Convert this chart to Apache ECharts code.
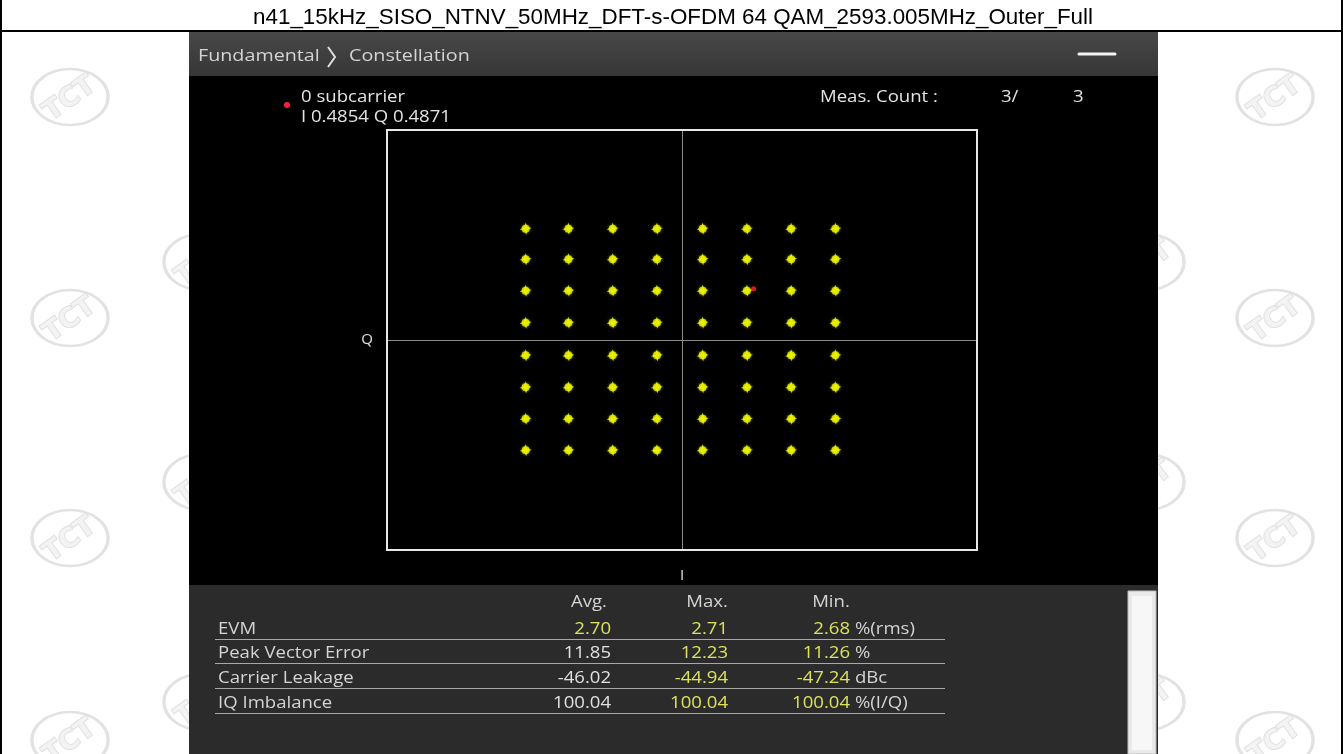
<!DOCTYPE html>
<html>
<head>
<meta charset="utf-8">
<script src="https://cdn.jsdelivr.net/npm/echarts@6/dist/echarts.min.js"></script>
<style>
html,body{margin:0;padding:0;background:#fff;}
#chart{width:1343px;height:754px;}
</style>
</head>
<body>
<div id="chart"></div>
<script>
// ---- data ----
const title = 'n41_15kHz_SISO_NTNV_50MHz_DFT-s-OFDM 64 QAM_2593.005MHz_Outer_Full';
const breadcrumb = ['Fundamental', 'Constellation'];
// 64-QAM cluster centres (I columns, Q rows)
const iLevels = [-1.06, -0.77, -0.47, -0.17, 0.14, 0.44, 0.74, 1.04];
const qLevels = [1.06, 0.77, 0.47, 0.165, -0.146, -0.45, -0.75, -1.05];
const markerPoint = [0.4854, 0.4871];
const markerLabel = ['0 subcarrier', 'I 0.4854 Q 0.4871'];
const measCount = ['Meas. Count :', '3/', '3'];
const axisNames = ['I', 'Q'];
const colHeaders = ['Avg.', 'Max.', 'Min.'];
const rowLabels = ['EVM', 'Peak Vector Error', 'Carrier Leakage', 'IQ Imbalance'];
const avgVals = ['2.70', '11.85', '-46.02', '100.04'];
const maxVals = ['2.71', '12.23', '-44.94', '100.04'];
const minVals = ['2.68', '11.26', '-47.24', '100.04'];
const units = ['%(rms)', '%', 'dBc', '%(I/Q)'];

// ---- build ----
const points = [];
qLevels.forEach(q => iLevels.forEach(i => points.push([i, q])));

const UI = '"Open Sans", "Noto Sans", sans-serif';
const txtCol = '#d4d4d4';
const yellow = '#dde25a';
const valWhite = '#e0e0e0';
const SX = 1.16; // the instrument screenshot is slightly stretched horizontally

const g = [];
function T(text, x, y, size, fill, align, extra) {
  return Object.assign({type: 'text', x: x, y: y, z: 30, scaleX: SX,
    style: {text: text, font: size + 'px ' + UI, fill: fill, textAlign: align || 'left', textVerticalAlign: 'middle'}}, extra || {});
}
// watermark logos
function logo(cx, cy) {
  return {
    type: 'group', x: cx, y: cy,
    children: [
      {type: 'circle', z: -20, shape: {cx: 0, cy: 0, r: 28}, scaleX: 1.36,
       style: {fill: 'none', stroke: '#e2e2e2', lineWidth: 2.5}},
      {type: 'text', z: -20, x: 0, y: 2, rotation: 0.62,
       style: {text: 'TCT', font: 'bold 27px "DejaVu Sans", sans-serif', fill: '#f3f3f3', stroke: '#dcdcdc', lineWidth: 1.6, textAlign: 'center', textVerticalAlign: 'middle'}}
    ]
  };
}
[97, 318, 538, 740].forEach(y => { g.push(logo(70, y)); g.push(logo(1275, y)); });
[262, 482, 702].forEach(y => { g.push(logo(202, y)); g.push(logo(1146, y)); });

// outer table frame
g.push({type: 'line', z: 50, shape: {x1: 0, y1: 31, x2: 1343, y2: 31}, style: {stroke: '#000', lineWidth: 2}});
g.push({type: 'line', z: 50, shape: {x1: 1, y1: 0, x2: 1, y2: 754}, style: {stroke: '#000', lineWidth: 2}});
g.push({type: 'line', z: 50, shape: {x1: 1342, y1: 0, x2: 1342, y2: 754}, style: {stroke: '#000', lineWidth: 2}});
g.push({type: 'text', x: 673, y: 18, z: 50,
  style: {text: title, font: '22.4px "Liberation Sans", Arial, sans-serif', fill: '#000', textAlign: 'center', textVerticalAlign: 'middle'}});

// instrument panel backgrounds
g.push({type: 'rect', z: -10, shape: {x: 189, y: 32, width: 969, height: 44},
  style: {fill: new echarts.graphic.LinearGradient(0, 0, 0, 1, [{offset: 0, color: '#484848'}, {offset: 1, color: '#363636'}])}});
g.push({type: 'rect', z: -10, shape: {x: 189, y: 76, width: 969, height: 509}, style: {fill: '#000'}});
g.push({type: 'rect', z: -10, shape: {x: 189, y: 585, width: 969, height: 169}, style: {fill: '#2b2b2b'}});
// scrollbar
g.push({type: 'rect', z: -5, shape: {x: 1128, y: 591, width: 28, height: 163}, style: {fill: '#e9e9e9', stroke: '#bdbdbd', lineWidth: 1}});
g.push({type: 'rect', z: -4, shape: {x: 1132, y: 596, width: 20, height: 154}, style: {fill: '#f7f7f7'}});

// header texts
g.push(T(breadcrumb[0], 198, 56, 17, txtCol));
g.push({type: 'polyline', z: 30, shape: {points: [[328, 47], [335, 57], [328, 67]]}, style: {stroke: '#e0e0e0', lineWidth: 2, fill: 'none'}});
g.push(T(breadcrumb[1], 349, 56, 17, txtCol));
g.push({type: 'line', z: 30, shape: {x1: 1079, y1: 54, x2: 1115, y2: 54}, style: {stroke: '#f4f4f4', lineWidth: 3, lineCap: 'round'}});

// marker info
g.push({type: 'circle', z: 30, shape: {cx: 287, cy: 105, r: 3}, style: {fill: '#ff1f3a'}});
g.push(T(markerLabel[0], 301, 97, 16, '#e4e4e4'));
g.push(T(markerLabel[1], 301, 117, 16, '#e4e4e4'));
g.push(T(measCount[0], 820, 97, 16, '#e4e4e4'));
g.push(T(measCount[1], 1001, 97, 16, '#e4e4e4'));
g.push(T(measCount[2], 1073, 97, 16, '#e4e4e4'));

// results table
const hdrX = [589, 707, 831];
colHeaders.forEach((h, k) => g.push(T(h, hdrX[k], 602, 16, txtCol, 'center')));
const rowY = [629, 653, 678, 703];
rowLabels.forEach((lab, r) => {
  const y = rowY[r];
  g.push(T(lab, 218, y, 16, txtCol));
  g.push(T(avgVals[r], 611, y, 16, r === 0 ? yellow : valWhite, 'right'));
  g.push(T(maxVals[r], 728, y, 16, yellow, 'right'));
  g.push(T(minVals[r], 850, y, 16, yellow, 'right'));
  g.push(T(units[r], 855, y, 16, txtCol));
  g.push({type: 'line', z: 30, shape: {x1: 215, y1: y + 10.5, x2: 945, y2: y + 10.5}, style: {stroke: '#a8a8a8', lineWidth: 1}});
});

const chart = echarts.init(document.getElementById('chart'), null, {renderer: 'canvas'});
chart.setOption({
  animation: false,
  backgroundColor: 'transparent',
  graphic: {elements: g},
  grid: {left: 387, top: 130, width: 590, height: 420, show: true, borderColor: '#e8e8e8', borderWidth: 2, backgroundColor: 'transparent', z: 3},
  xAxis: {
    type: 'value', min: -2, max: 2, interval: 2,
    name: axisNames[0], nameLocation: 'middle', nameGap: 18,
    nameTextStyle: {color: '#e0e0e0', fontSize: 15, fontFamily: 'Open Sans'},
    axisLine: {show: false}, axisTick: {show: false}, axisLabel: {show: false},
    splitLine: {show: true, lineStyle: {color: '#8c8c8c', width: 1}}
  },
  yAxis: {
    type: 'value', min: -2, max: 2, interval: 2,
    name: axisNames[1], nameLocation: 'middle', nameGap: 14, nameRotate: 0,
    nameTextStyle: {color: '#e0e0e0', fontSize: 15, fontFamily: 'Open Sans'},
    axisLine: {show: false}, axisTick: {show: false}, axisLabel: {show: false},
    splitLine: {show: true, lineStyle: {color: '#8c8c8c', width: 1}}
  },
  series: [
    {
      type: 'scatter', data: points, z: 4,
      symbol: 'path://M0,-6 L1.6,-1.8 L6,-0.6 L1.8,1.4 L0.6,6 L-1.4,1.8 L-6,0.8 L-1.8,-1.4 Z',
      symbolSize: 12,
      itemStyle: {color: '#d8e400', opacity: 0.9}
    },
    {
      type: 'scatter', data: points, symbol: 'circle', symbolSize: 8, z: 5,
      itemStyle: {color: '#eef200', shadowBlur: 3, shadowColor: 'rgba(230,240,0,0.6)'}
    },
    {
      type: 'scatter', data: [markerPoint], symbol: 'circle', symbolSize: 5, z: 6,
      itemStyle: {color: '#ff2424'}
    }
  ]
});
</script>
</body>
</html>
